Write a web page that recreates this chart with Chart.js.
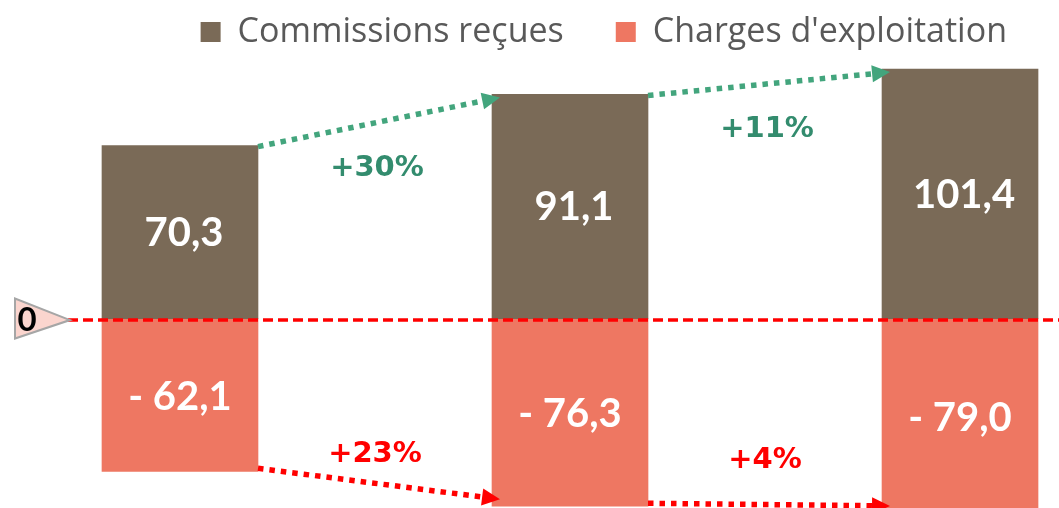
<!DOCTYPE html>
<html lang="fr">
<head>
<meta charset="utf-8">
<title>Commissions reçues et charges d'exploitation</title>
<script src="https://cdn.jsdelivr.net/npm/chart.js@4.4.1/dist/chart.umd.min.js"></script>
<style>
  html, body { margin: 0; padding: 0; background: #fff; overflow: hidden; }
  #cadre { position: relative; width: 1059px; height: 508px; }
</style>
</head>
<body>
<div id="cadre"><canvas id="graphique"></canvas></div>
<script>
// Données
var periodes = [0, 1, 2];
var commissions = [70.3, 91.1, 101.4];
var charges = [-62.1, -76.3, -79.0];
var evolCommissions = ['+30%', '+11%'];
var evolCharges = ['+23%', '+4%'];
var nomsSeries = ['Commissions reçues', "Charges d'exploitation"];

var brun = '#7A6A57';
var saumon = '#EE7762';
var vertFleche = '#43A57D';
var vertTexte = '#338C6E';
var rouge = '#FF0000';

function formatVal(v) {
  var s = Math.abs(v).toFixed(1).replace('.', ',');
  return v < 0 ? '- ' + s : s;
}

// flèche pointillée avec pointe pleine
function fleche(ctx, x1, y1, x2, y2, couleur) {
  var ang = Math.atan2(y2 - y1, x2 - x1);
  var L = 18, W = 8.5;
  var bx = x2 - L * Math.cos(ang), by = y2 - L * Math.sin(ang);
  ctx.save();
  ctx.strokeStyle = couleur;
  ctx.lineWidth = 5.5;
  ctx.setLineDash([5.5, 6]);
  ctx.beginPath();
  ctx.moveTo(x1, y1);
  ctx.lineTo(bx, by);
  ctx.stroke();
  ctx.setLineDash([]);
  ctx.fillStyle = couleur;
  ctx.beginPath();
  ctx.moveTo(x2, y2);
  ctx.lineTo(bx + W * Math.sin(ang), by - W * Math.cos(ang));
  ctx.lineTo(bx - W * Math.sin(ang), by + W * Math.cos(ang));
  ctx.closePath();
  ctx.fill();
  ctx.restore();
}

var annotations = {
  id: 'annotations',
  afterDatasetsDraw: function (chart) {
    var ctx = chart.ctx;
    var y0 = chart.scales.y.getPixelForValue(0);
    var barsC = chart.getDatasetMeta(0).data;
    var barsD = chart.getDatasetMeta(1).data;

    // ligne du zéro
    ctx.save();
    ctx.strokeStyle = rouge;
    ctx.lineWidth = 3.5;
    ctx.setLineDash([10, 5]);
    ctx.beginPath();
    ctx.moveTo(68, y0 + 1.5);
    ctx.lineTo(chart.width, y0 + 1.5);
    ctx.stroke();
    ctx.restore();

    // repère "0"
    ctx.save();
    ctx.fillStyle = '#FBD5CE';
    ctx.strokeStyle = '#A6A6A6';
    ctx.lineWidth = 2;
    ctx.beginPath();
    ctx.moveTo(15, y0 - 20);
    ctx.lineTo(15, y0 + 20);
    ctx.lineTo(70, y0 + 1.5);
    ctx.closePath();
    ctx.fill();
    ctx.stroke();
    ctx.fillStyle = '#000';
    ctx.font = 'bold 33px Lato';
    ctx.textAlign = 'center';
    ctx.textBaseline = 'middle';
    ctx.fillText('0', 27, y0 + 2);
    ctx.restore();

    // valeurs dans les barres
    ctx.save();
    ctx.fillStyle = '#fff';
    ctx.font = 'bold 40px Lato';
    ctx.textAlign = 'center';
    ctx.textBaseline = 'middle';
    barsC.forEach(function (b, i) {
      ctx.fillText(formatVal(commissions[i]), b.x + 4, (b.y + b.base) / 2 + 1);
    });
    barsD.forEach(function (b, i) {
      ctx.fillText(formatVal(charges[i]), b.x, (b.y + b.base) / 2 + 2);
    });
    ctx.restore();

    // flèches d'évolution
    ctx.save();
    ctx.font = 'bold 29px "DejaVu Sans"';
    ctx.textAlign = 'center';
    ctx.textBaseline = 'middle';
    for (var i = 0; i < barsC.length - 1; i++) {
      var a = barsC[i], b = barsC[i + 1];
      var x1 = a.x + a.width / 2, y1 = a.y + 1;
      var x2 = b.x - b.width / 2 + 8, y2 = b.y + 3;
      fleche(ctx, x1, y1, x2, y2, vertFleche);
      ctx.fillStyle = vertTexte;
      var xm = (a.x + a.width / 2 + b.x - b.width / 2) / 2;
      ctx.fillText(evolCommissions[i], xm + 2, (y1 + y2) / 2 + 46);

      var c = barsD[i], d = barsD[i + 1];
      var x3 = c.x + c.width / 2, y3 = c.y - 3;
      var x4 = d.x - d.width / 2 + 8, y4 = d.y - 7;
      fleche(ctx, x3, y3, x4, y4, rouge);
      ctx.fillStyle = rouge;
      ctx.fillText(evolCharges[i], xm, d.y - 52);
    }
    ctx.restore();
  }
};

var lienzo = document.getElementById('graphique').getContext('2d');

var grafico = new Chart(lienzo, {
  type: 'bar',
  data: {
    datasets: [
      {
        label: nomsSeries[0],
        data: periodes.map(function (p, i) { return { x: p, y: commissions[i] }; }),
        backgroundColor: brun,
        borderWidth: 0
      },
      {
        label: nomsSeries[1],
        data: periodes.map(function (p, i) { return { x: p, y: charges[i] }; }),
        backgroundColor: saumon,
        borderWidth: 0
      }
    ]
  },
  options: {
    responsive: true,
    maintainAspectRatio: false,
    animation: false,
    layout: { padding: { top: -37, left: 0, right: 0, bottom: 0 } },
    datasets: { bar: { barThickness: 156, grouped: false } },
    scales: {
      x: { type: 'linear', offset: false, min: -0.4615, max: 2.2538, display: false, grid: { display: false } },
      y: { min: -77.0, max: 105.5, display: false, grid: { display: false } }
    },
    plugins: {
      legend: {
        position: 'top',
        align: 'end',
        labels: {
          boxWidth: 20,
          boxHeight: 20,
          padding: 52,
          color: '#595959',
          font: { family: 'Open Sans', size: 34 }
        }
      },
      tooltip: { enabled: true }
    }
  },
  plugins: [annotations]
});
</script>
</body>
</html>
